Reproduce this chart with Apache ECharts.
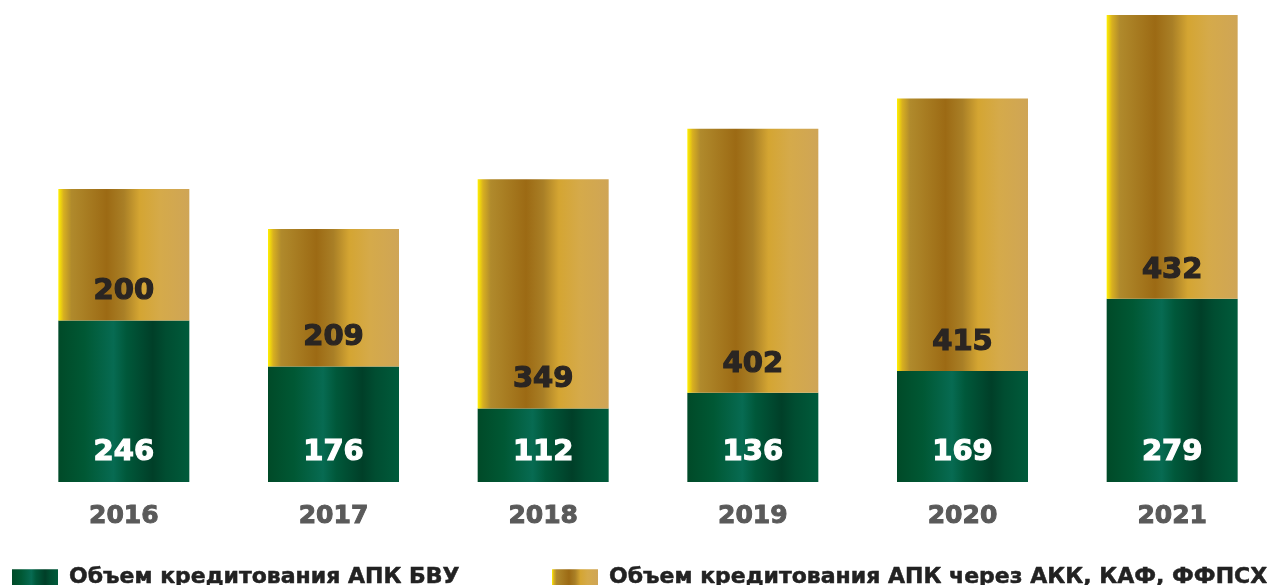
<!DOCTYPE html>
<html>
<head>
<meta charset="utf-8">
<script src="https://cdn.jsdelivr.net/npm/echarts@6/dist/echarts.min.js"></script>
<style>
  html, body { margin: 0; padding: 0; background: #fff; }
  #chart { width: 1282px; height: 585px; }
</style>
</head>
<body>
<div id="chart"></div>
<script>
    // data
    var years = ['2016', '2017', '2018', '2019', '2020', '2021'];
    var bankValues = [246, 176, 112, 136, 169, 279];      // АПК БВУ
    var fundValues = [200, 209, 349, 402, 415, 432];      // через АКК, КАФ, ФФПСХ
    var seriesNames = [
        'Объем кредитования АПК БВУ',
        'Объем кредитования АПК через АКК, КАФ, ФФПСХ'
    ];

    var FONT = '"DejaVu Sans", sans-serif';

    //horizontal metallic gradients
    function greenGradient() {
        return new echarts.graphic.LinearGradient(0, 0, 1, 0, [
            { offset: 0, color: '#004a28' },
            { offset: 0.2, color: '#005834' },
            { offset: 0.42, color: '#076b52' },
            { offset: 0.52, color: '#00583a' },
            { offset: 0.72, color: '#003f28' },
            { offset: 0.82, color: '#004d31' },
            { offset: 1, color: '#005b3b' }
        ]);
    }

    function goldGradient() {
        return new echarts.graphic.LinearGradient(0, 0, 1, 0, [
            { offset: 0, color: '#fff000' },
            { offset: 0.04, color: '#d8b020' },
            { offset: 0.1, color: '#b08a2c' },
            { offset: 0.37, color: '#9c6a14' },
            { offset: 0.5, color: '#a97f26' },
            { offset: 0.62, color: '#d4a532' },
            { offset: 0.78, color: '#d5aa4a' },
            { offset: 1, color: '#cfa556' }
        ]);
    }

    //bold label helper, a thin outline in the same colour makes glyphs heavier
    function heavyLabel(color, size, distance) {
        return {
            show: true,
            position: 'insideBottom',
            distance: distance,
            fontFamily: FONT,
            fontWeight: 'bold',
            fontSize: size,
            color: color,
            textBorderColor: color,
            textBorderWidth: 1.2
        };
    }

    var chart = echarts.init(document.getElementById('chart'));

    var legendText = {
        fontFamily: FONT,
        fontWeight: 'bold',
        fontSize: 22,
        color: '#222',
        textBorderColor: '#222',
        textBorderWidth: 0.5,
        padding: [0, 0, 0, 6]
    };

    var option = {
        animation: false,
        grid: {
            left: 19,
            right: 5,
            top: 15,
            bottom: 103
        },
        legend: [{
            data: [seriesNames[0]],
            left: 7,
            top: 561,
            itemWidth: 46,
            itemHeight: 16,
            icon: 'rect',
            textStyle: legendText
        }, {
            data: [seriesNames[1]],
            left: 547,
            top: 561,
            itemWidth: 46,
            itemHeight: 16,
            icon: 'rect',
            textStyle: legendText
        }],
        xAxis: {
            type: 'category',
            data: years,
            axisLine: { show: false },
            axisTick: { show: false },
            axisLabel: {
                margin: 22,
                fontFamily: FONT,
                fontWeight: 'bold',
                fontSize: 25,
                color: '#5a5a5a',
                textBorderColor: '#5a5a5a',
                textBorderWidth: 1
            }
        },
        yAxis: {
            type: 'value',
            min: 0,
            max: function(v) { return v.max; },
            show: false,
            splitLine: { show: false }
        },
        series: [{
            name: seriesNames[0],
            type: 'bar',
            stack: 'total',
            barWidth: 131,
            data: bankValues,
            itemStyle: { color: greenGradient() },
            label: heavyLabel('#fff', 29, 15)
        }, {
            name: seriesNames[1],
            type: 'bar',
            stack: 'total',
            barWidth: 131,
            data: fundValues,
            itemStyle: { color: goldGradient() },
            label: heavyLabel('#2a2522', 29, 14)
        }]
    };

    chart.setOption(option);
</script>
</body>
</html>
